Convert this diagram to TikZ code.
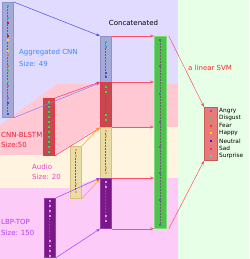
\documentclass[tikz,border=0pt]{standalone}
\usepackage{fontspec}
\setmainfont{DejaVu Sans}
\usepackage{tikz}
\usetikzlibrary{arrows.meta, positioning, calc}
\usepackage{xcolor}
% backgrounds
\definecolor{lavbg}{HTML}{E1DCFF}
\definecolor{pinkbg}{HTML}{FFC8D2}
\definecolor{creambg}{HTML}{FFF4E0}
\definecolor{magbg}{HTML}{FCCBF8}
\definecolor{greenbg}{HTML}{E6FFE6}
% blocks
\definecolor{aggfill}{HTML}{A4AAD6}
\definecolor{aggline}{HTML}{8C92C8}
\definecolor{lstmfill}{HTML}{C84850}
\definecolor{lstmline}{HTML}{E03848}
\definecolor{audfill}{HTML}{E8DCA8}
\definecolor{audline}{HTML}{D6C27E}
\definecolor{lbpfill}{HTML}{7A1888}
\definecolor{lbpline}{HTML}{9A3AAE}
\definecolor{featfill}{HTML}{50C050}
\definecolor{featline}{HTML}{7ADA7A}
\definecolor{svmfill}{HTML}{E87A7A}
\definecolor{svmline}{HTML}{C85A5A}
% texts and arrows
\definecolor{aggtext}{HTML}{3A86FF}
\definecolor{lstmtext}{HTML}{E8203A}
\definecolor{audtext}{HTML}{E844CC}
\definecolor{lbptext}{HTML}{B040F0}
\definecolor{svmtext}{HTML}{FF2A2A}
\definecolor{aggarrow}{HTML}{4848FF}
\definecolor{lstmarrow}{HTML}{FF2A7A}
\definecolor{audarrow}{HTML}{FFA020}
\definecolor{lbparrow}{HTML}{A040FF}
\definecolor{featarrow}{HTML}{FF5068}
% dots
\definecolor{cyanD}{HTML}{38A8D8}
\definecolor{redD}{HTML}{E8103A}
\definecolor{yelD}{HTML}{E8E020}
\definecolor{orD}{HTML}{F06848}
\definecolor{grnD}{HTML}{40D840}
\definecolor{magD}{HTML}{E840E0}
\definecolor{bluD}{HTML}{4848E8}
\definecolor{audD}{HTML}{F0A848}
\definecolor{lbpD}{HTML}{D890F8}
\definecolor{featD}{HTML}{3C7C8C}
\definecolor{angryD}{HTML}{A040E0}
\definecolor{fearD}{HTML}{F03030}
\definecolor{happyD}{HTML}{F8E020}
\definecolor{neutralD}{HTML}{2020F0}
\definecolor{sadD}{HTML}{F020D0}
\definecolor{surpriseD}{HTML}{30E0C8}

\begin{document}
\begin{tikzpicture}[
    x=1pt, y=-1pt,
    blk/.style={draw, line width=0.8pt, inner sep=0, minimum width=11pt, anchor=north west},
    lbl/.style={anchor=west, inner sep=0, font=\fontsize{7}{8}\selectfont},
    emo/.style={anchor=west, inner sep=0, font=\fontsize{5.8}{7}\selectfont},
    dots/.style={densely dotted, line width=0.5pt, black!60},
    >={Stealth[length=4pt, width=3pt]}
]
\useasboundingbox (0,0) rectangle (249,259);

% background bands
\fill[lavbg] (0,0) rectangle (178,259);
\fill[greenbg] (178,0) rectangle (249,259);
\fill[pinkbg] (0,125) -- (57,84) -- (178,84) -- (178,127) -- (99,127) -- (55,155) -- (0,155) -- cycle;
\fill[creambg] (0,155) -- (55,155) -- (99,127) -- (178,127) -- (178,178) -- (99,178) -- (70,188) -- (0,188) -- cycle;
\fill[magbg] (0,188) -- (70,188) -- (99,178) -- (178,178) -- (178,259) -- (0,259) -- cycle;

% input feature blocks
\node[blk, fill=aggfill, draw=aggline, minimum height=115pt] (agg) at (2,2) {};
\node[blk, fill=lstmfill, draw=lstmline, minimum height=57pt] (lstm) at (43,98) {};
\node[blk, fill=audfill, draw=audline, minimum height=52pt] (aud) at (70,146) {};
\node[blk, fill=lbpfill, draw=lbpline, minimum height=59pt] (lbp) at (44,198) {};

% concatenated column
\node[blk, fill=aggfill, draw=aggline, minimum height=46pt] (cA) at (100,36) {};
\node[blk, fill=lstmfill, draw=lstmline, minimum height=45pt] (cB) at (100,82) {};
\node[blk, fill=audfill, draw=audline, minimum height=51pt] (cC) at (100,127) {};
\node[blk, fill=lbpfill, draw=lbpline, minimum height=50pt] (cD) at (100,178) {};

% joint feature and classifier
\node[blk, fill=featfill, draw=featline, minimum width=12pt, minimum height=192pt] (feat) at (154,36) {};
\node[blk, fill=svmfill, draw=svmline, minimum width=13pt, minimum height=53pt] (svm) at (204,107) {};

% dots in the blocks
\draw[dots] (7.5,6) -- (7.5,114);
\foreach \y/\c in {6/cyanD,18/cyanD,23/redD,36/redD,40/yelD,51/yelD,55/orD,66/orD,
                   71/grnD,82/grnD,86/magD,98/magD,103/bluD,114/bluD}
  \fill[\c] (6.5,\y-1) rectangle (8.5,\y+1);
\draw[dots] (48.5,102) -- (48.5,152);
\foreach \k in {0,...,10}
  \fill[grnD] (47.5,101+5*\k) rectangle (49.5,103+5*\k);
\draw[dots] (75.5,150) -- (75.5,192);
\foreach \y in {150,156,184,192}
  \fill[audD] (74.5,\y-1) rectangle (76.5,\y+1);
\draw[dots] (49.5,201) -- (49.5,256);
\foreach \y in {201,206,211,216,241,246,251,256}
  \fill[lbpD] (48.5,\y-1) rectangle (50.5,\y+1);
\foreach \a/\b in {42/77,87/120,131/173,182/221}
  \draw[dots] (105.5,\a) -- (105.5,\b);
\foreach \y/\c in {42/cyanD,47/cyanD,73/bluD,77/bluD,87/grnD,92/grnD,115/grnD,120/grnD,
                   131/audD,136/audD,168/audD,173/audD,182/lbpD,187/lbpD,216/lbpD,221/lbpD}
  \fill[\c] (104.5,\y-1) rectangle (106.5,\y+1);
\draw[dots] (160,40) -- (160,225);
\foreach \y in {40,66,94,122,147,173,200,225}
  \fill[featD] (159,\y-1) rectangle (161,\y+1);
\foreach \c [count=\i from 0] in {angryD,grnD,fearD,happyD,neutralD,sadD,surpriseD}
  \fill[\c] (209.5,109.5+7.6*\i) rectangle (211.5,111.5+7.6*\i);

% labels
\node[lbl, text=aggtext] (aggname) at (19,53) {Aggregated CNN};
\node[lbl, text=aggtext] (aggsize) at (19,64) {Size: 49};
\node[lbl, text=lstmtext] (lstmname) at (1,135) {CNN-BLSTM};
\node[lbl, text=lstmtext] (lstmsize) at (1,145) {Size:50};
\node[lbl, text=audtext] (audname) at (32,167) {Audio};
\node[lbl, text=audtext] (audsize) at (32,177) {Size: 20};
\node[lbl, text=lbptext] (lbpname) at (1,222) {LBP-TOP};
\node[lbl, text=lbptext] (lbpsize) at (1,233) {Size: 150};
\node[lbl, anchor=center] (concat) at (133.5,23) {Concatenated};
\node[lbl, text=svmtext] (svmname) at (188,68) {a linear SVM};
\foreach \t [count=\i from 0] in {Angry,Disgust,Fear,Happy,Neutral,Sad,Surprise}
  \node[emo] (emo\i) at (219,110.5+7.6*\i) {\t};

% inputs into the concatenated column
\draw[->, aggarrow, line width=0.5pt] (agg.north east) -- (cA.north west);
\draw[->, aggarrow!70, line width=0.5pt] (agg.south east) -- (cA.south west);
\draw[->, lstmarrow, line width=0.5pt] (lstm.north east) -- (cB.north west);
\draw[->, lstmarrow, line width=0.5pt] (lstm.south east) -- (cB.south west);
\draw[->, audarrow, line width=0.5pt] (aud.north east) -- (cC.north west);
\draw[->, audarrow, line width=0.5pt] (aud.south east) -- (cC.south west);
\draw[->, lbparrow, line width=0.5pt] (lbp.north east) -- (cD.north west);
\draw[->, lbparrow, line width=0.5pt] (lbp.south east) -- (cD.south west);

% concatenated column into the joint feature
\foreach \n in {cA,cB,cC,cD}
  \draw[->, featarrow, line width=0.5pt] (\n.north east) -- (\n.north east -| feat.west);
\draw[->, featarrow, line width=0.5pt] (cD.south east) -- (cD.south east -| feat.west);

% joint feature into the SVM
\draw[->, featarrow, line width=0.5pt] ([xshift=2pt]feat.north east) -- (svm.north west);
\draw[->, featarrow, line width=0.5pt] ([xshift=2pt]feat.south east) -- (svm.south west);
\end{tikzpicture}
\end{document}
